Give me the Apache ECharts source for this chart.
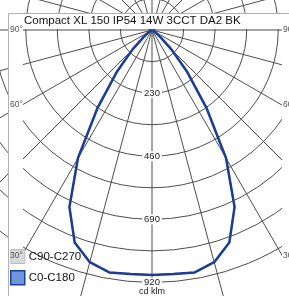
<!DOCTYPE html>
<html>
<head>
<meta charset="utf-8">
<script src="https://cdn.jsdelivr.net/npm/echarts@6/dist/echarts.min.js"></script>
<style>
  html, body { margin: 0; padding: 0; background: #fff; }
  #chart { width: 289px; height: 296px; }
</style>
</head>
<body>
<div id="chart"></div>
<script>
// gamma angle from nadir (deg) and luminous intensity (cd/klm)
const gammaAngles = [0, 5, 10, 15, 20, 25, 30, 35, 40, 45, 50, 55, 60, 65, 70, 75, 80, 85, 90];
const c0c180 = [893, 893, 897, 876, 824, 712, 540, 345, 200, 100, 40, 15, 5, 2, 0, 0, 0, 0, 0];
const c90c270 = [893, 893, 897, 876, 824, 712, 540, 345, 200, 100, 40, 15, 5, 2, 0, 0, 0, 0, 0];
const ringLabels = [230, 460, 690, 920];
const angleLabels = [90, 60, 30];
const titleText = 'Compact XL 150 IP54 14W 3CCT DA2 BK';
const unitText = 'cd klm';

const FONT = 'Liberation Sans, Arial, sans-serif';
const cx = 152, cy = 30;
const clipLeft = 23, clipRight = 282;

// left half is the C180 / C270 plane, right half C0 / C90
function planeData(vals) {
  const left = gammaAngles.map((g, i) => [vals[i], 360 - g]).reverse();
  const right = gammaAngles.map((g, i) => [vals[i], g]);
  return left.concat(right.slice(1));
}

const chart = echarts.init(document.getElementById('chart'));

// circles every 115, the outermost one (1035) stays hidden
const ringColors = [];
for (let i = 0; i <= 9; i++) ringColors.push(i === 9 ? 'rgba(0,0,0,0)' : '#4d4d4d');

const graphics = [
  { type: 'rect', shape: { x: 9, y: 14, width: 280, height: 15 }, style: { fill: '#fff' }, z: 50 },
  { type: 'rect', shape: { x: 9, y: 14, width: clipLeft - 9, height: 282 }, style: { fill: '#fff' }, z: 50 },
  { type: 'rect', shape: { x: clipRight, y: 14, width: 289 - clipRight, height: 282 }, style: { fill: '#fff' }, z: 50 },
  { type: 'line', shape: { x1: 8.5, y1: 13.5, x2: 289, y2: 13.5 }, style: { stroke: '#b0b0b0', lineWidth: 1 }, z: 60 },
  { type: 'line', shape: { x1: 8.5, y1: 13.5, x2: 8.5, y2: 296 }, style: { stroke: '#b0b0b0', lineWidth: 1 }, z: 60 },
  {
    type: 'text', x: cx, y: 292, z: 60,
    style: { text: unitText, font: '9px ' + FONT, fill: '#222', align: 'center', verticalAlign: 'middle', backgroundColor: '#fff' }
  }
];
angleLabels.forEach(a => {
  const y = cy + (clipRight - cx) / Math.tan(a * Math.PI / 180);
  graphics.push({
    type: 'text', x: 10, y: y, z: 120,
    style: { text: a + '°', font: '8.5px ' + FONT, fill: '#555', align: 'left', verticalAlign: 'middle' }
  });
  graphics.push({
    type: 'text', x: clipRight + 1, y: y, z: 120,
    style: { text: a + '°', font: '8.5px ' + FONT, fill: '#555', align: 'left', verticalAlign: 'middle' }
  });
});

chart.setOption({
  animation: false,
  backgroundColor: '#fff',
  title: {
    text: titleText, left: 24, top: 15, padding: 0, z: 100,
    textStyle: { fontSize: 11.5, fontWeight: 'normal', color: '#111', fontFamily: FONT }
  },
  legend: {
    orient: 'vertical', left: 10, top: 249, padding: 0, z: 100,
    itemWidth: 14, itemHeight: 14, itemGap: 6, icon: 'rect', selectedMode: false,
    textStyle: { fontSize: 11.5, color: '#111', fontFamily: FONT, padding: [0, 0, 0, -1] },
    data: [
      { name: 'C90-C270', itemStyle: { color: '#d9d9d9', borderColor: '#bdbdbd', borderWidth: 1 } },
      { name: 'C0-C180', itemStyle: { color: '#6d97d8', borderColor: '#1f3f9a', borderWidth: 1.5 } }
    ]
  },
  polar: { center: [cx, cy], radius: 284 },
  angleAxis: {
    type: 'value', min: 0, max: 360, interval: 15, startAngle: 270, clockwise: false,
    axisLine: { show: false }, axisTick: { show: false }, axisLabel: { show: false },
    splitLine: { show: true, lineStyle: { color: '#4d4d4d', width: 1 } }
  },
  radiusAxis: {
    type: 'value', min: 0, max: 1035, interval: 115,
    axisLine: { show: false }, axisTick: { show: false },
    axisLabel: {
      margin: 0, align: 'center', verticalAlign: 'middle',
      formatter: v => ringLabels.includes(v) ? '{b|' + v + '}' : '',
      rich: { b: { fontSize: 9.5, color: '#222', fontFamily: FONT, backgroundColor: '#fff', padding: [0, 2] } }
    },
    splitLine: { show: true, lineStyle: { color: ringColors, width: 1 } }
  },
  graphic: graphics,
  series: [
    {
      name: 'C90-C270', type: 'line', coordinateSystem: 'polar', data: planeData(c90c270),
      symbol: 'none', z: 2, lineStyle: { color: '#c8c8c8', width: 2 }, itemStyle: { color: '#d9d9d9' }
    },
    {
      name: 'C0-C180', type: 'line', coordinateSystem: 'polar', data: planeData(c0c180),
      symbol: 'none', z: 3, lineStyle: { color: '#1c3c96', width: 2.5 }, itemStyle: { color: '#6d97d8' }
    }
  ]
});
</script>
</body>
</html>
